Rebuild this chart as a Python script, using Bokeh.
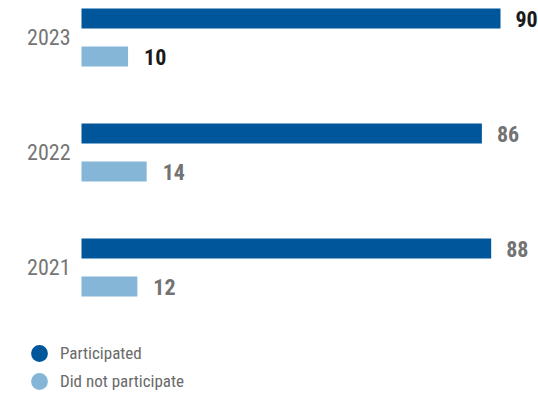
from bokeh.plotting import figure
from bokeh.models import ColumnDataSource, Range1d, Legend, LegendItem
from bokeh.transform import dodge
from bokeh.core.properties import value
from bokeh.embed import file_html
from bokeh.resources import INLINE

years = ["2023", "2022", "2021"]
participated = [90, 86, 88]
not_participated = [10, 14, 12]
label_colors = ["#1a1a1a", "#737373", "#737373"]
series_names = ["Participated", "Did not participate"]
series_colors = ["#00569A", "#85B6D8"]

FONT = "'Roboto Condensed', 'Liberation Sans Narrow', 'DejaVu Sans Condensed', 'Arial Narrow', sans-serif"

W, H = 538, 393
x0_px = 81
ppu = 419 / 90.0
grp_px = 115.0
top_px = 37.0

src = ColumnDataSource(dict(
    g=list(range(len(years))),
    year=years,
    part=participated,
    notp=not_participated,
    part_lbl=[str(v) for v in participated],
    notp_lbl=[str(v) for v in not_participated],
    lcol=label_colors,
    zero=[0] * len(years),
))

p = figure(width=W, height=H, output_backend="svg", toolbar_location=None,
           min_border=0, x_range=Range1d(-x0_px / ppu, (W - x0_px) / ppu),
           y_range=Range1d((H - top_px) / grp_px, -top_px / grp_px))
p.axis.visible = False
p.grid.visible = False
p.outline_line_color = None
p.background_fill_color = "white"
p.border_fill_color = "white"

off = 19 / grp_px
bh = 20 / grp_px

p.hbar(y=dodge("g", -off), left=0, right="part", height=bh, source=src,
       fill_color=series_colors[0], line_color=None)
p.hbar(y=dodge("g", off), left=0, right="notp", height=bh, source=src,
       fill_color=series_colors[1], line_color=None)

p.text(x="part", y=dodge("g", -off), text="part_lbl", source=src, x_offset=15, y_offset=0,
       text_align="left", text_baseline="middle", text_color="lcol",
       text_font=value(FONT), text_font_style="bold", text_font_size="22px")
p.text(x="notp", y=dodge("g", off), text="notp_lbl", source=src, x_offset=16, y_offset=0,
       text_align="left", text_baseline="middle", text_color="lcol",
       text_font=value(FONT), text_font_style="bold", text_font_size="22px")
p.text(x="zero", y="g", text="year", source=src, x_offset=-11, y_offset=-1,
       text_align="right", text_baseline="middle", text_color="#757575",
       text_font=value(FONT), text_font_size="22px")

# legend-only renderers (single NaN point, never drawn in the plot)
nan = float("nan")
leg1 = ColumnDataSource(dict(x=[nan], y=[nan]))
leg2 = ColumnDataSource(dict(x=[nan], y=[nan]))
r1 = p.scatter(x="x", y="y", source=leg1, marker="circle", fill_color=series_colors[0], line_color=None)
r2 = p.scatter(x="x", y="y", source=leg2, marker="circle", fill_color=series_colors[1], line_color=None)

common = dict(orientation="vertical", glyph_width=42, glyph_height=42, label_standoff=-3,
              padding=0, margin=0, border_line_alpha=0, background_fill_alpha=0,
              label_text_font=FONT, label_text_font_size="17px",
              label_text_color="#6a6a6a", label_text_baseline="middle")
legend1 = Legend(items=[LegendItem(label=series_names[0], renderers=[r1])],
                 location=(18, 19), **common)
legend2 = Legend(items=[LegendItem(label=series_names[1], renderers=[r2])],
                 location=(18, -9), **common)
p.add_layout(legend1, "center")
p.add_layout(legend2, "center")

open("out.html", "w").write(file_html(p, INLINE))
